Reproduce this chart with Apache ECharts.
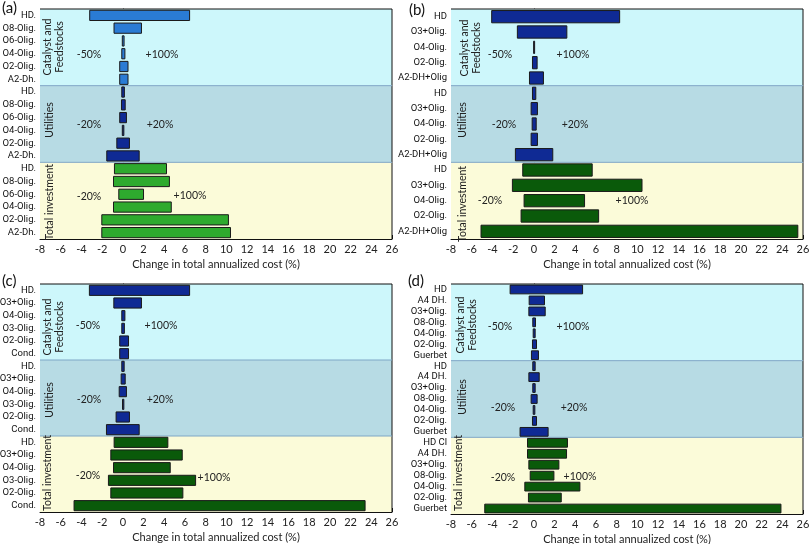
<!DOCTYPE html>
<html><head><meta charset="utf-8">
<script src="https://cdn.jsdelivr.net/npm/echarts@6/dist/echarts.min.js"></script>
<style>html,body{margin:0;padding:0;background:#fff}#c{width:810px;height:544px}</style>
</head><body><div id="c"></div>
<script>
// ---------- DATA ----------
const xMin = -8, xMax = 26, xStep = 2;
const axisTitle = 'Change in total annualized cost (%)';
const groupNames = ['Catalyst and\nFeedstocks', 'Utilities', 'Total investment'];
const annotations = ['-50%', '+100%', '-20%', '+20%', '-20%', '+100%'];

const aCats = ['HD.','O8-Olig.','O6-Olig.','O4-Olig.','O2-Olig.','A2-Dh.',
               'HD.','O8-Olig.','O6-Olig.','O4-Olig.','O2-Olig.','A2-Dh.',
               'HD.','O8-Olig.','O6-Olig.','O4-Olig.','O2-Olig.','A2-Dh.'];
const aLow  = [-3.2,-0.85,-0.05,-0.1,-0.3,-0.3, -0.1,-0.13,-0.3,-0.05,-0.58,-1.55, -0.81,-0.9,-0.39,-0.9,-2.03,-2.03];
const aHigh = [6.45,1.8,0.12,0.2,0.5,0.5, 0.15,0.23,0.35,0.1,0.64,1.58, 4.22,4.5,2.0,4.68,10.2,10.4];

const bCats = ['HD','O3+Olig.','O4-Olig.','O2-Olig.','A2-DH+Olig',
               'HD','O3+Olig.','O4-Olig.','O2-Olig.','A2-DH+Olig',
               'HD','O3+Olig.','O4-Olig.','O2-Olig.','A2-DH+Olig'];
const bLow  = [-4.07,-1.59,-0.02,-0.13,-0.42, -0.13,-0.26,-0.16,-0.26,-1.78, -1.07,-2.07,-0.94,-1.23,-5.1];
const bHigh = [8.29,3.19,0.05,0.32,0.93, 0.19,0.35,0.23,0.35,1.83, 5.64,10.45,4.9,6.26,25.5];

const cCats = ['HD.','O3+Olig.','O4-Olig.','O3-Olig.','O2-Olig.','Cond.',
               'HD.','O3+Olig.','O4-Olig.','O3-Olig.','O2-Olig.','Cond.',
               'HD.','O3+Olig.','O4-Olig.','O3-Olig.','O2-Olig.','Cond.'];
const cLow  = [-3.23,-0.87,-0.1,-0.1,-0.3,-0.3, -0.1,-0.16,-0.35,-0.03,-0.65,-1.58, -0.84,-1.16,-0.9,-1.39,-1.16,-4.71];
const cHigh = [6.45,1.8,0.2,0.15,0.55,0.55, 0.13,0.23,0.35,0.1,0.64,1.58, 4.35,5.74,4.58,7.03,5.8,23.4];

const dCats = ['HD','A4 DH.','O3+Olig.','O8-Olig.','O4-Olig.','O2-Olig.','Guerbet',
               'HD','A4 DH.','O3+Olig.','O8-Olig.','O4-Olig.','O2-Olig.','Guerbet',
               'HD Cl','A4 DH.','O3+Olig.','O8-Olig.','O4-Olig.','O2-Olig.','Guerbet'];
const dLow  = [-2.29,-0.45,-0.48,-0.1,-0.06,-0.13,-0.23, -0.1,-0.48,-0.1,-0.26,-0.06,-0.13,-1.33, -0.61,-0.61,-0.48,-0.35,-0.87,-0.52,-4.74];
const dHigh = [4.71,1.03,1.1,0.16,0.13,0.26,0.45, 0.13,0.52,0.13,0.32,0.1,0.26,1.38, 3.25,3.16,2.42,1.94,4.45,2.65,23.87];

// ---------- LAYOUT / STYLE ----------
const FONT = "Roboto, sans-serif";
const FONT2 = "Lato, sans-serif";
const bandColors = ['#cdf7fb', '#b7dbe4', '#fbfbd9'];
const panels = [
  {tag:'(a)', cats:aCats, lo:aLow, hi:aHigh, left:40,  top:9,   h:230, colors:['#2a7bd4','#0f2a94','#2eaa2e'],
   tagPos:[2,1], groupLbl:[[54,47],[50,120],[50,202]],
   ann:[[89,55],[162,55],[89,125],[160,125],[89,197],[190,196]]},
  {tag:'(b)', cats:bCats, lo:bLow, hi:bHigh, left:451, top:9,   h:230, colors:['#0f2a94','#0f2a94','#0a5a0a'],
   tagPos:[409,3], groupLbl:[[471,48],[463,120],[463,204]],
   ann:[[500,55],[573,55],[504,125],[575,125],[490,201],[632,201]]},
  {tag:'(c)', cats:cCats, lo:cLow, hi:cHigh, left:40,  top:284, h:228, colors:['#0f2a94','#0f2a94','#0a5a0a'],
   tagPos:[2,274], groupLbl:[[54,327],[50,400],[48,473]],
   ann:[[88,326],[161,326],[89,400],[160,400],[88,476],[214,478]]},
  {tag:'(d)', cats:dCats, lo:dLow, hi:dHigh, left:451, top:284, h:230, colors:['#0f2a94','#0f2a94','#0a5a0a'],
   tagPos:[408,274], groupLbl:[[467,325],[463,397],[459,473]],
   ann:[[500,327],[573,327],[503,408],[574,408],[503,478],[580,477]]}
];
const W = 352;

const grid = [], xAxis = [], yAxis = [], series = [], graphic = [];
panels.forEach((p, k) => {
  const n = p.cats.length, gs = n / 3;
  grid.push({left:p.left, top:p.top, width:W, height:p.h, containLabel:false, outerBoundsMode:'none'});
  xAxis.push({
    type:'value', gridIndex:k, min:xMin, max:xMax, interval:xStep,
    name: axisTitle, nameLocation:'middle', nameGap:20,
    nameTextStyle:{fontFamily:FONT2, fontSize:11, color:'#222'},
    axisLine:{show:true, onZero:false, lineStyle:{color:'#111', width:1}},
    axisTick:{show:true, inside:true, length:4, lineStyle:{color:'#111'}},
    minorTick:{show:true, splitNumber:4, length:2, lineStyle:{color:'#111'}},
    axisLabel:{fontFamily:FONT2, fontSize:11, color:'#222', margin:5},
    splitLine:{show:false}
  });
  yAxis.push({
    type:'category', gridIndex:k, inverse:true, data:p.cats.map((c,i)=>String(i)),
    axisLine:{show:true, lineStyle:{color:'#111', width:1}},
    axisTick:{show:false},
    axisLabel:{fontFamily:FONT, fontSize:9.5, color:'#111', margin:4, interval:0,
               formatter:(v)=>p.cats[+v]},
    splitLine:{show:false}
  });
  // background bands
  series.push({
    type:'custom', xAxisIndex:k, yAxisIndex:k, silent:true, z:1, clip:false,
    data:[0,1,2].map(g => [0, g*gs, g*gs+gs-1, g]),
    encode:{x:0, y:[1,2]},
    renderItem:(params, api) => {
      const cs = params.coordSys;
      const g = api.value(3);
      const band = api.size([0,1])[1];
      const y0 = api.coord([0, api.value(1)])[1] - band/2;
      const y1 = api.coord([0, api.value(2)])[1] + band/2;
      const children = [
        {type:'rect', shape:{x:cs.x, y:y0, width:cs.width, height:y1-y0}, style:{fill:bandColors[g]}},
        {type:'line', shape:{x1:cs.x+cs.width, y1:y0, x2:cs.x+cs.width, y2:y1}, style:{stroke:'#111', lineWidth:1}}
      ];
      if (g === 0) children.push({type:'line', shape:{x1:cs.x, y1:y0, x2:cs.x+cs.width, y2:y0}, style:{stroke:'#111', lineWidth:1}});
      else children.push({type:'line', shape:{x1:cs.x, y1:y0, x2:cs.x+cs.width, y2:y0}, style:{stroke:'#7fa7c6', lineWidth:1}});
      return {type:'group', children};
    }
  });
  // bars
  series.push({
    type:'custom', xAxisIndex:k, yAxisIndex:k, z:3,
    data:p.cats.map((c,i)=>[p.lo[i], p.hi[i], i, Math.floor(i/gs)]),
    encode:{x:[0,1], y:2},
    renderItem:(params, api) => {
      const a = api.coord([api.value(0), api.value(2)]);
      const b = api.coord([api.value(1), api.value(2)]);
      const h = api.size([0,1])[1] * 0.8;
      const g = api.value(3);
      return {type:'rect', shape:{x:a[0], y:a[1]-h/2, width:Math.max(b[0]-a[0],1), height:h},
              style:{fill:p.colors[g], stroke:'#1a1a1a', lineWidth:1}};
    }
  });
  graphic.push({type:'text', left:p.tagPos[0], top:p.tagPos[1], z:10,
    style:{text:p.tag, font:'15px ' + FONT2, fill:'#111'}});
  p.groupLbl.forEach((pos, g) => {
    graphic.push({type:'text', x:pos[0], y:pos[1], rotation:Math.PI/2, z:10,
      style:{text:groupNames[g], font:'10.5px ' + FONT2, fill:'#222', align:'center', verticalAlign:'middle', lineHeight:12}});
  });
  p.ann.forEach((pos, j) => {
    graphic.push({type:'text', x:pos[0], y:pos[1], z:10,
      style:{text:annotations[j], font:'10.5px ' + FONT2, fill:'#222', align:'center', verticalAlign:'middle'}});
  });
});

const chart = echarts.init(document.getElementById('c'), null, {renderer:'canvas'});
chart.setOption({animation:false, backgroundColor:'#fff', grid, xAxis, yAxis, series, graphic});
</script></body></html>
